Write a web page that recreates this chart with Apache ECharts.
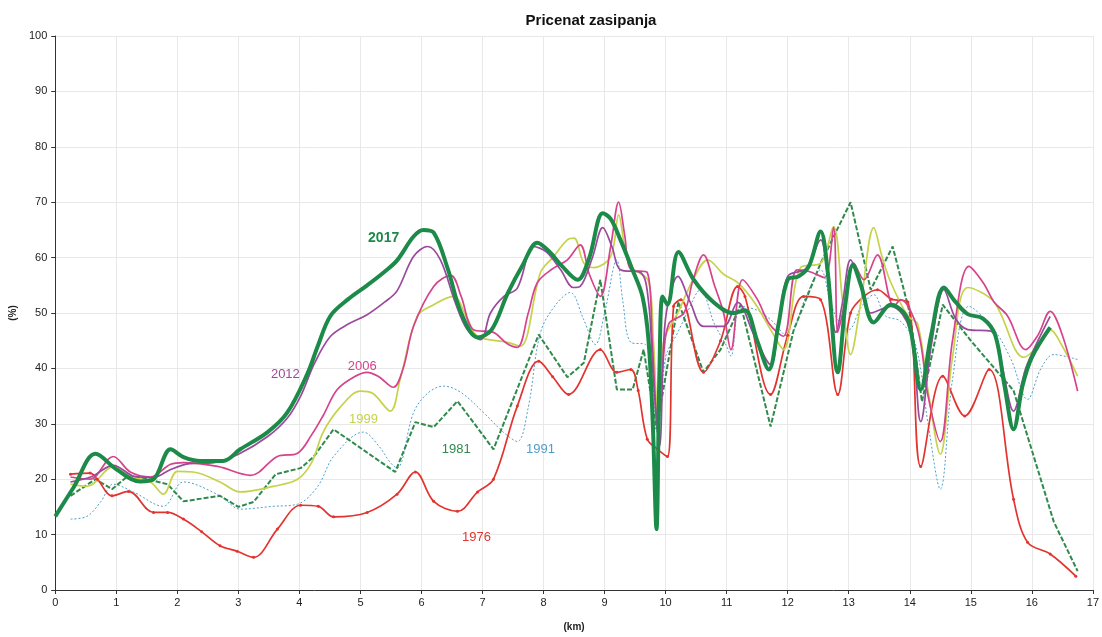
<!DOCTYPE html>
<html>
<head>
<meta charset="utf-8">
<title>Pricenat zasipanja</title>
<script src="https://cdn.jsdelivr.net/npm/echarts@6/dist/echarts.min.js"></script>
<style>
  html, body { margin: 0; padding: 0; background: #fff; }
  #main { width: 1102px; height: 637px; }
</style>
</head>
<body>
<div id="main"></div>
<script>
// [km, %] pairs
var s1976 = [[0.25,20.9],[0.57,21.1],[0.69,20],[0.93,17],[1.2,17.8],[1.61,14],[1.84,14],[2.1,12.8],[2.4,10.5],[2.7,8],[2.98,7],[3.25,5.9],[3.64,11],[4.02,15.3],[4.31,15.1],[4.56,13.2],[5.11,14],[5.6,17.3],[5.9,21.3],[6.2,16],[6.59,14.2],[6.92,17.7],[7.18,20],[7.57,33.2],[7.92,41.3],[8.15,38.5],[8.41,35.3],[8.93,43.4],[9.2,39.3],[9.43,39.8],[9.55,36],[9.7,27.2],[9.87,25.4],[10.03,24.1],[10.13,51.2],[10.25,52.4],[10.62,39.3],[10.9,45],[11.18,54.8],[11.3,53],[11.72,35.3],[12.0,46],[12.26,53],[12.54,52.4],[12.82,35.3],[13.03,50],[13.25,53],[13.47,54.2],[13.7,52.5],[13.97,52],[14.18,22.3],[14.54,38.6],[14.9,31.4],[15.3,39.8],[15.7,16.4],[15.93,8.6],[16.3,6.5],[16.72,2.5]];

var s1981 = [[0.25,17],[0.66,20],[0.93,18.2],[1.18,20.5],[1.51,20],[1.84,19.1],[2.1,16],[2.7,17],[3.0,15],[3.25,15.9],[3.61,20.9],[4.02,22],[4.23,24],[4.56,29],[5.57,21.3],[5.9,30.3],[6.2,29.4],[6.59,34.1],[7.18,25.4],[7.92,46.1],[8.39,38.4],[8.66,41],[8.93,56],[9.2,36.2],[9.46,36.2],[9.64,43.4],[9.85,29],[10.21,52],[10.62,39.3],[10.9,43.4],[11.23,51.5],[11.72,29.5],[12.1,47],[12.54,59],[13.03,70],[13.36,54.2],[13.72,62],[14.0,50],[14.2,34],[14.54,51.5],[15.0,45],[15.7,36],[16.36,12.3],[16.75,3.4]];

var s1991 = [[0.25,12.8],[0.52,13.3],[0.75,16],[0.95,19.1],[1.28,17.7],[1.77,15.1],[2.1,19.5],[2.7,17],[3.03,14.6],[3.57,15.1],[3.97,15.5],[4.3,18.7],[4.56,24.1],[5.05,28.5],[5.3,26],[5.49,23],[5.6,22],[5.87,32],[6.1,35.5],[6.36,36.8],[6.64,35.7],[7.02,32],[7.34,28.5],[7.57,26.8],[7.75,33],[7.95,46.5],[8.2,51.5],[8.44,53.7],[8.65,49],[8.85,44.3],[9.0,50],[9.2,59.6],[9.3,52],[9.43,44.7],[9.67,44.3],[9.78,38],[9.87,28],[10.0,42],[10.2,46.5],[10.35,50],[10.57,54.2],[10.8,48],[11.0,44],[11.07,42.2],[11.23,51.2],[11.5,50.5],[11.72,48.8],[12.0,45.8],[12.3,53],[12.54,57.8],[12.7,52],[12.82,48.8],[13.0,47],[13.2,51],[13.41,53.3],[13.6,49.5],[13.85,48.5],[14.1,44],[14.3,30],[14.5,18.2],[14.7,38],[14.97,51.2],[15.38,47],[15.66,41.6],[15.93,34.4],[16.15,40],[16.36,42.5],[16.75,41.6]];

var s1999 = [[0.25,19.1],[0.52,18.7],[0.95,22.2],[1.23,20.5],[1.56,19.5],[1.77,17.3],[2.0,21.4],[2.26,21.3],[2.7,19.5],[3.03,17.7],[3.57,18.7],[3.97,20],[4.2,23],[4.39,28.5],[4.67,33],[5.0,35.9],[5.2,35.5],[5.49,32.3],[5.65,38],[5.93,49.4],[6.2,51.5],[6.52,53],[6.75,49],[6.92,45.8],[7.41,44.7],[7.62,44],[7.95,57.3],[8.15,60],[8.39,63.2],[8.5,63.5],[8.66,59],[8.82,58.2],[9.1,60.2],[9.23,67.7],[9.33,62],[9.43,58.4],[9.72,55.7],[9.8,45],[9.88,30],[9.97,45],[10.2,50],[10.45,56],[10.69,59.6],[10.95,57],[11.18,55.5],[11.45,52],[11.72,47],[11.93,43.4],[12.21,58.2],[12.54,59],[12.75,65.6],[12.9,52],[13.03,42.5],[13.2,52],[13.41,65.4],[13.55,60],[13.69,55.5],[13.97,49.4],[14.13,48],[14.3,36],[14.5,24.5],[14.7,42],[14.95,54.6],[15.38,52],[15.87,42],[16.1,44],[16.3,47],[16.5,44],[16.75,38.6]];

var s2006 = [[0.25,20.4],[0.57,20],[0.95,24.1],[1.23,21.3],[1.56,20.4],[1.89,22.7],[2.1,23],[2.66,22.3],[3.2,20.7],[3.64,24.1],[3.97,24.7],[4.2,28],[4.39,31.5],[4.62,36.2],[4.9,38.5],[5.11,39.3],[5.3,38.5],[5.54,36.6],[5.7,40],[5.87,47.6],[6.2,54.8],[6.48,56.8],[6.65,53],[6.85,47],[7.18,46.5],[7.4,44.5],[7.57,43.8],[7.75,50],[7.9,55.5],[8.15,58],[8.39,59.6],[8.6,62.3],[8.75,57],[8.93,53],[9.1,62],[9.23,70],[9.33,64],[9.43,57.8],[9.7,57.3],[9.78,45],[9.87,30],[9.95,40],[10.05,48],[10.3,50],[10.45,56],[10.62,60.5],[10.8,55],[10.95,50],[11.07,43.4],[11.26,56],[11.5,52.5],[11.7,48],[11.93,45.8],[12.15,57.8],[12.35,57.5],[12.6,56.4],[12.75,65.4],[12.82,46.5],[12.9,50],[13.08,59],[13.25,56],[13.47,60.5],[13.74,51.2],[13.85,52.4],[14.13,47],[14.3,35],[14.5,26.8],[14.7,45],[14.97,58.4],[15.2,55.5],[15.38,52],[15.6,49.5],[15.9,43.4],[16.1,46],[16.3,50.3],[16.5,46],[16.75,35.9]];

var s2012 = [[0.25,19.5],[0.6,20.5],[0.95,22.5],[1.3,20.5],[1.6,20.3],[1.9,21.8],[2.2,22.8],[2.6,23],[3.0,24.5],[3.48,27.7],[3.8,31],[4.02,35],[4.25,41],[4.51,45.8],[4.8,48],[5.11,49.7],[5.4,52],[5.6,54],[5.87,60.2],[6.1,62],[6.31,59.6],[6.55,52],[6.75,47],[6.97,45.2],[7.13,50],[7.35,53],[7.57,54.5],[7.84,62],[8.05,61],[8.28,57.8],[8.49,54.6],[8.6,54.8],[8.8,60],[8.97,65.4],[9.12,62],[9.26,57.8],[9.59,57.3],[9.72,52],[9.8,38],[9.9,26],[9.97,45],[10.03,51.2],[10.2,56.6],[10.4,52],[10.62,47.6],[10.95,47.6],[11.18,51.9],[11.45,46],[11.72,40.7],[11.85,48],[12.0,56.6],[12.3,58],[12.54,63.2],[12.65,57],[12.79,46.5],[12.9,52],[13.03,59.6],[13.2,55],[13.36,50],[13.69,51.2],[14.0,47],[14.18,30.4],[14.35,44],[14.56,54.2],[14.75,49],[14.95,47],[15.33,46.7],[15.5,41],[15.7,32.3],[15.9,40],[16.1,45],[16.3,49.4]];

var s2017 = [[0,13.3],[0.3,18.5],[0.66,24.6],[1.0,21.8],[1.39,19.6],[1.61,20],[1.89,25.4],[2.1,24],[2.38,23.3],[2.75,23.3],[3.03,25.4],[3.48,28.5],[3.8,32],[4.13,39],[4.3,44],[4.51,49.5],[4.8,52.5],[5.11,55],[5.4,57.5],[5.6,59.5],[5.87,63.8],[6.03,65],[6.2,64.5],[6.43,58],[6.65,50],[6.92,45.6],[7.15,47],[7.41,53.5],[7.65,58.5],[7.9,62.7],[8.1,61],[8.3,58.5],[8.56,56],[8.75,60],[8.97,68],[9.1,67],[9.26,63.2],[9.45,58],[9.62,53],[9.72,45],[9.79,30],[9.85,11],[9.9,40],[9.95,53],[10.03,51.5],[10.21,61],[10.46,56],[10.79,51.9],[11.11,50],[11.3,50.5],[11.5,45],[11.69,39.8],[11.85,48],[12.0,56],[12.18,56.6],[12.35,58.5],[12.54,64.7],[12.65,58],[12.82,39.3],[12.95,52],[13.07,58.7],[13.2,55],[13.41,48.3],[13.69,51.5],[13.97,48.8],[14.18,36.2],[14.35,46],[14.56,54.6],[14.75,52],[14.95,49.8],[15.2,49],[15.4,46],[15.55,37],[15.7,29],[15.85,37],[16.0,42],[16.3,47.4]];

// where the year names sit, [km, %]
var labelPos = {
  '1976': [6.9, 9.5],
  '1981': [6.57, 25.4],
  '1991': [7.95, 25.4],
  '1999': [5.05, 30.8],
  '2006': [5.03, 40.4],
  '2012': [3.77, 38.9],
  '2017': [5.38, 63.6]
};

var xTicks = [0,1,2,3,4,5,6,7,8,9,10,11,12,13,14,15,16,17];

var colors = {
  '1976': '#e2342f',
  '1981': '#2f8a4c',
  '1991': '#4f9fcc',
  '1999': '#c6d34a',
  '2006': '#d6428c',
  '2012': '#9a4a9c',
  '2017': '#1c8a48'
};

function tag(name, bold) {
  return {
    symbol: 'circle',
    symbolSize: 1,
    itemStyle: { color: 'rgba(0,0,0,0)' },
    label: {
      show: true,
      position: 'inside',
      formatter: name,
      color: colors[name],
      fontSize: bold ? 14 : 13,
      fontWeight: bold ? 'bold' : 'normal',
      fontFamily: 'Liberation Sans, Arial, sans-serif'
    },
    data: [{ coord: labelPos[name], value: name }]
  };
}

function line(name, data, opts) {
  var s = {
    name: name,
    type: 'line',
    data: data,
    smooth: 0.35,
    symbol: 'none',
    z: 2,
    lineStyle: { color: colors[name], width: 1.7 },
    itemStyle: { color: colors[name] },
    markPoint: tag(name, name === '2017')
  };
  for (var k in opts) s[k] = opts[k];
  return s;
}

var myChart = echarts.init(document.getElementById('main'));
myChart.setOption({
  animation: false,
  backgroundColor: '#fff',
  textStyle: { fontFamily: 'Liberation Sans, Arial, sans-serif' },
  title: {
    text: 'Pricenat zasipanja',
    left: 586,
    textAlign: 'center',
    top: 8,
    textStyle: { fontSize: 15, fontWeight: 'bold', color: '#111' }
  },
  grid: { left: 55, right: 7, top: 36, bottom: 46 },
  xAxis: {
    type: 'value',
    min: 0,
    max: 17,
    interval: 1,
    name: '(km)',
    nameLocation: 'middle',
    nameGap: 32,
    nameTextStyle: { fontSize: 10, fontWeight: 'bold', color: '#222' },
    axisLine: { lineStyle: { color: '#333', width: 1 } },
    axisTick: { show: true, length: 4, lineStyle: { color: '#333' } },
    axisLabel: { fontSize: 11, color: '#222', margin: 7,
      formatter: function (v) { return xTicks.indexOf(v) >= 0 ? String(v) : ''; } },
    splitLine: { show: true, lineStyle: { color: '#e8e8e8' } }
  },
  yAxis: {
    type: 'value',
    min: 0,
    max: 100,
    interval: 10,
    name: '(%)',
    nameLocation: 'middle',
    nameGap: 34,
    nameRotate: 90,
    nameTextStyle: { fontSize: 10, fontWeight: 'bold', color: '#222' },
    axisLine: { show: true, lineStyle: { color: '#333', width: 1 } },
    axisTick: { show: true, length: 4, lineStyle: { color: '#333' } },
    axisLabel: { fontSize: 11, color: '#222', margin: 8 },
    splitLine: { show: true, lineStyle: { color: '#e8e8e8' } }
  },
  series: [
    line('1991', s1991, { lineStyle: { color: colors['1991'], width: 1, type: [2, 2] } }),
    line('1981', s1981, { smooth: false, lineStyle: { color: colors['1981'], width: 2, type: [5, 2] } }),
    line('1976', s1976, { symbol: 'circle', symbolSize: 3, lineStyle: { color: colors['1976'], width: 1.7 } }),
    line('1999', s1999, {}),
    line('2006', s2006, {}),
    line('2012', s2012, {}),
    line('2017', s2017, { z: 3, lineStyle: { color: colors['2017'], width: 4 } })
  ]
});
window.addEventListener('resize', function () {
  myChart.resize();
});
</script>
</body>
</html>
